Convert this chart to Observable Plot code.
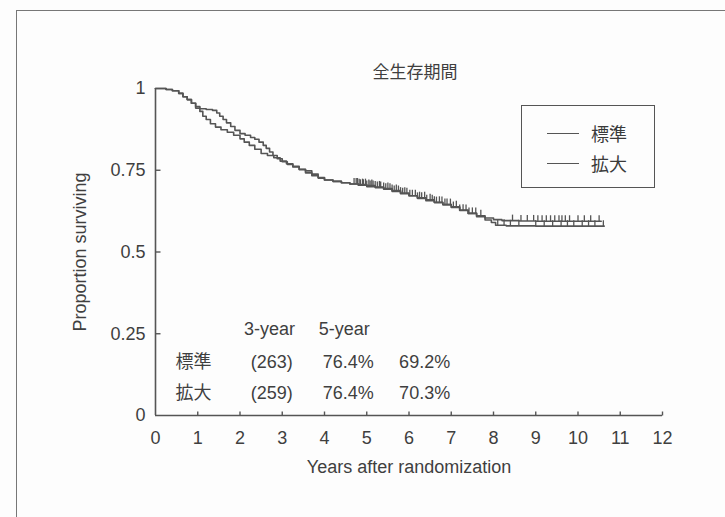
<!DOCTYPE html>
<html><head><meta charset="utf-8">
<script src="https://cdn.jsdelivr.net/npm/d3@7"></script>
<script src="https://cdn.jsdelivr.net/npm/@observablehq/plot@0.6"></script>
<style>
body{margin:0;background:#fff;}
#wrap{position:relative;width:725px;height:517px;overflow:hidden;background:#fdfdfd;font-family:"Liberation Sans","Noto Sans CJK JP",sans-serif;color:#3a3a3a;}
#frame{position:absolute;left:16px;top:10px;width:900px;height:700px;border-left:1.5px solid #777;border-top:1.5px solid #777;}
#chart{position:absolute;left:0;top:0;}
#legend{position:absolute;left:521px;top:105px;width:132px;height:81px;border:1.5px solid #555;font-size:18px;}
#legend .row{position:absolute;left:25px;height:24px;display:flex;align-items:center;}
#legend .sw{width:32px;height:0;border-top:1.8px solid #555;margin-right:12px;}
</style></head>
<body>
<div id="wrap"><div id="frame"></div><div id="chart"></div><div id="legend"></div></div>
<script>
// ---- data ----
const groups = ["標準", "拡大"];
const title = "全生存期間";
const xLabel = "Years after randomization";
const yLabel = "Proportion surviving";
const xTicks = [0,1,2,3,4,5,6,7,8,9,10,11,12];
const yTicks = [0,0.25,0.5,0.75,1];
const yTickLabels = ["0","0.25","0.5","0.75","1"];
const tableHeaders = ["3-year","5-year"];
const nAtRisk = ["(263)","(259)"];
const threeYear = ["76.4%","76.4%"];
const fiveYear = ["69.2%","70.3%"];

// Kaplan-Meier step points
const timesA = [0,0.25,0.4,0.55,0.65,0.75,0.85,0.95,1.05,1.2,1.35,1.45,1.52,1.6,1.68,1.78,1.88,2.0,2.12,2.25,2.35,2.45,2.55,2.62,2.7,2.78,2.88,3.0,3.12,3.25,3.4,3.55,3.7,3.85,4.0,4.2,4.4,4.6,4.8,5.0,5.2,5.4,5.6,5.8,6.0,6.2,6.4,6.6,6.8,7.0,7.2,7.4,7.6,7.8,8.0,8.2,8.6,9.0,10.55];
const survA  = [1,0.997,0.993,0.985,0.975,0.966,0.955,0.945,0.938,0.936,0.933,0.925,0.915,0.905,0.895,0.884,0.872,0.862,0.857,0.85,0.845,0.836,0.826,0.817,0.806,0.795,0.785,0.776,0.768,0.76,0.753,0.748,0.738,0.728,0.72,0.716,0.712,0.708,0.704,0.70,0.697,0.692,0.685,0.678,0.672,0.664,0.657,0.651,0.645,0.636,0.627,0.618,0.611,0.604,0.599,0.596,0.595,0.594,0.594];
const timesB = [0,0.25,0.4,0.55,0.65,0.75,0.85,0.95,1.05,1.12,1.2,1.3,1.42,1.55,1.7,1.85,2.0,2.1,2.22,2.35,2.5,2.65,2.8,2.95,3.1,3.25,3.4,3.55,3.7,3.85,4.0,4.2,4.4,4.6,4.8,5.0,5.2,5.4,5.6,5.8,6.0,6.2,6.4,6.6,6.8,7.0,7.2,7.4,7.6,7.8,7.95,8.05,8.3,9.0,10.62];
const survB  = [1,0.997,0.993,0.985,0.975,0.966,0.955,0.94,0.93,0.915,0.905,0.892,0.882,0.874,0.866,0.857,0.846,0.836,0.826,0.814,0.801,0.795,0.788,0.778,0.77,0.762,0.752,0.742,0.733,0.726,0.72,0.716,0.712,0.708,0.706,0.703,0.699,0.694,0.688,0.68,0.672,0.666,0.66,0.652,0.645,0.638,0.628,0.618,0.608,0.598,0.59,0.582,0.58,0.579,0.579];
const censorA = [4.7,4.78,4.85,4.92,5.0,5.08,5.15,5.25,5.33,5.45,5.55,5.65,5.75,5.85,5.95,6.08,6.2,6.3,6.42,6.55,6.65,6.78,6.9,7.05,7.2,7.35,7.5,7.7,8.45,8.65,8.8,8.95,9.05,9.15,9.25,9.35,9.45,9.55,9.62,9.7,9.8,10.0,10.15,10.3,10.5];
const censorB = [4.75,4.82,4.9,4.97,5.05,5.12,5.2,5.3,5.4,5.5,5.6,5.7,5.8,5.9,6.02,6.15,6.25,6.37,6.5,6.6,6.72,6.85,6.98,7.12,7.28,7.42,7.58,8.1,8.25,8.4,8.6,9.0,9.2,9.4,9.6,9.75,9.9,10.1,10.25,10.4,10.6];

// ---- build ----
const ink = "#3f3f3f";
const lineCol = "#555";
const font = '"Liberation Sans","Noto Sans CJK JP",sans-serif';
const seriesA = timesA.map((t,i)=>({t, s:survA[i]}));
const seriesB = timesB.map((t,i)=>({t, s:survB[i]}));
function survAt(times, surv, t){ const i = d3.bisectRight(times, t) - 1; return surv[Math.max(0,i)]; }
const censA = censorA.map(t=>({t, s:survAt(timesA,survA,t)}));
const censB = censorB.map(t=>({t, s:survAt(timesB,survB,t)}));

const tickUp = {draw(ctx){ ctx.moveTo(0,0); ctx.lineTo(0,-4); }};
const tickRight = {draw(ctx){ ctx.moveTo(0,0); ctx.lineTo(5,0); }};
const censorMark = {draw(ctx){ ctx.moveTo(0,0); ctx.lineTo(0,-6); }};

const rows = groups.map((g,i)=>({g, n:nAtRisk[i], y3:threeYear[i], y5:fiveYear[i], row:i}));
const rowY = [0.162, 0.067];

const chart = Plot.plot({
  width:725, height:517,
  marginLeft:155, marginRight:63, marginTop:88, marginBottom:102,
  x:{domain:[0,12]}, y:{domain:[0,1]},
  style:{fontFamily:font, fontSize:"18px", color:ink, background:"transparent", overflow:"visible"},
  marks:[
    Plot.ruleY([0], {x1:0, x2:12, stroke:lineCol, strokeWidth:1.6}),
    Plot.ruleX([0], {y1:0, y2:1, stroke:lineCol, strokeWidth:1.6}),
    Plot.axisX({ticks:xTicks, tickSize:0, tickPadding:16, tickFormat:d=>String(d), label:null, fill:ink, fontSize:18}),
    Plot.dot(xTicks.slice(1), {x:d=>d, y:0, symbol:tickUp, stroke:lineCol, fill:"none", strokeWidth:1.4}),
    Plot.axisY({ticks:yTicks, tickSize:0, tickPadding:10, tickFormat:(d)=>yTickLabels[yTicks.indexOf(d)], label:null, fill:ink, fontSize:18}),
    Plot.dot(yTicks.slice(1,4), {x:0, y:d=>d, symbol:tickRight, stroke:lineCol, fill:"none", strokeWidth:1.4}),
    Plot.text([xLabel], {frameAnchor:"bottom", dy:52, lineAnchor:"middle", fill:ink, fontSize:18}),
    Plot.text([yLabel], {frameAnchor:"left", dx:-75, rotate:-90, textAnchor:"middle", lineAnchor:"middle", fill:ink, fontSize:18}),
    Plot.text([title], {frameAnchor:"top", dx:6, dy:-16, lineAnchor:"middle", fill:ink, fontSize:17}),
    Plot.line(seriesA, {x:"t", y:"s", curve:"step-after", stroke:lineCol, strokeWidth:1.6}),
    Plot.line(seriesB, {x:"t", y:"s", curve:"step-after", stroke:lineCol, strokeWidth:1.6}),
    Plot.dot(censA, {x:"t", y:"s", symbol:censorMark, stroke:lineCol, fill:"none", strokeWidth:1.3}),
    Plot.dot(censB, {x:"t", y:"s", symbol:censorMark, stroke:lineCol, fill:"none", strokeWidth:1.3}),
    Plot.text(tableHeaders, {x:(d,i)=>[2.7,4.47][i], y:0.263, fill:ink, fontSize:18}),
    Plot.text(rows, {x:0.9, y:d=>rowY[d.row], text:"g", fill:ink, fontSize:18}),
    Plot.text(rows, {x:2.75, y:d=>rowY[d.row], text:"n", fill:ink, fontSize:18}),
    Plot.text(rows, {x:4.56, y:d=>rowY[d.row], text:"y3", fill:ink, fontSize:18}),
    Plot.text(rows, {x:6.37, y:d=>rowY[d.row], text:"y5", fill:ink, fontSize:18})
  ]
});
document.getElementById("chart").appendChild(chart);

const leg = document.getElementById("legend");
groups.forEach((g,i)=>{
  const r = document.createElement("div");
  r.className = "row";
  r.style.top = (15 + i*30) + "px";
  r.innerHTML = `<span class="sw"></span><span>${g}</span>`;
  leg.appendChild(r);
});
</script>
</body></html>
